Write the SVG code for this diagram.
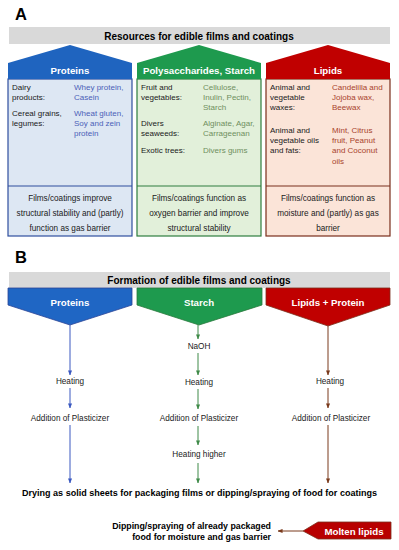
<svg xmlns="http://www.w3.org/2000/svg" width="399" height="550" viewBox="0 0 399 550">
<defs>
<style>
text{font-family:"Liberation Sans",Arial,sans-serif;}
.letter{font-size:16.5px;font-weight:bold;fill:#000;}
.bar{fill:#d9d9d9;}
.title{font-size:10px;font-weight:bold;fill:#000;text-anchor:middle;}
.head{font-size:9.7px;font-weight:bold;fill:#fff;text-anchor:middle;}
.lab{font-size:8px;fill:#1a1a1a;}
.bt{font-size:8.2px;fill:#1a1a1a;text-anchor:middle;}
.step{font-size:8.2px;fill:#1a1a1a;text-anchor:middle;}
.bold{font-size:8.3px;font-weight:bold;fill:#000;}
.dip{font-size:8.8px;font-weight:bold;fill:#000;text-anchor:end;}
.cb{fill:#4b5fb8;}
.cg{fill:#6f8f5e;}
.cr{fill:#a8432c;}
.ln{fill:none;stroke-width:1;}
</style>
<marker id="ab" viewBox="0 0 6 6" refX="5.5" refY="3" markerWidth="5" markerHeight="5" orient="auto"><path d="M0,0.5 L6,3 L0,5.5 Z" fill="#3a58c0"/></marker>
<marker id="ag" viewBox="0 0 6 6" refX="5.5" refY="3" markerWidth="5" markerHeight="5" orient="auto"><path d="M0,0.5 L6,3 L0,5.5 Z" fill="#3f8a48"/></marker>
<marker id="ar" viewBox="0 0 6 6" refX="5.5" refY="3" markerWidth="5" markerHeight="5" orient="auto"><path d="M0,0.5 L6,3 L0,5.5 Z" fill="#7a3a1c"/></marker>
</defs>

<text class="letter" x="15" y="20">A</text>
<rect class="bar" x="9" y="27" width="381" height="17"/>
<text class="title" x="199" y="39.5">Resources for edible films and coatings</text>

<g id="house-proteins">
<rect x="8" y="79" width="124" height="157" fill="#dde7f3" stroke="#2f4f9e" stroke-width="1.2"/>
<line x1="8" y1="186" x2="132" y2="186" stroke="#2f4f9e" stroke-width="1.2"/>
<polygon points="8,79 8,63 70,45 132,63 132,79" fill="#1f64bf"/>
<text class="head" x="70" y="73.5">Proteins</text>
<text class="lab" x="12" y="90">Dairy</text>
<text class="lab" x="12" y="100">products:</text>
<text class="lab" x="12" y="116">Cereal grains,</text>
<text class="lab" x="12" y="126">legumes:</text>
<text class="lab cb" x="74" y="90">Whey protein,</text>
<text class="lab cb" x="74" y="100">Casein</text>
<text class="lab cb" x="74" y="116">Wheat gluten,</text>
<text class="lab cb" x="74" y="126">Soy and zein</text>
<text class="lab cb" x="74" y="136">protein</text>
<text class="bt" x="70" y="201">Films/coatings improve</text>
<text class="bt" x="70" y="216">structural stability and (partly)</text>
<text class="bt" x="70" y="231">function as gas barrier</text>
</g>

<g id="house-polysaccharides">
<rect x="137" y="79" width="124" height="157" fill="#e2f0da" stroke="#2e7d3e" stroke-width="1.2"/>
<line x1="137" y1="186" x2="261" y2="186" stroke="#2e7d3e" stroke-width="1.2"/>
<polygon points="137,79 137,63 199,45 261,63 261,79" fill="#1e9a4e"/>
<text class="head" x="199" y="73.5">Polysaccharides, Starch</text>
<text class="lab" x="141" y="90">Fruit and</text>
<text class="lab" x="141" y="100">vegetables:</text>
<text class="lab" x="141" y="126">Divers</text>
<text class="lab" x="141" y="136">seaweeds:</text>
<text class="lab" x="141" y="153">Exotic trees:</text>
<text class="lab cg" x="203" y="90">Cellulose,</text>
<text class="lab cg" x="203" y="100">Inulin, Pectin,</text>
<text class="lab cg" x="203" y="110">Starch</text>
<text class="lab cg" x="203" y="126">Alginate, Agar,</text>
<text class="lab cg" x="203" y="136">Carrageenan</text>
<text class="lab cg" x="203" y="153">Divers gums</text>
<text class="bt" x="199" y="201">Films/coatings function as</text>
<text class="bt" x="199" y="216">oxygen barrier and improve</text>
<text class="bt" x="199" y="231">structural stability</text>
</g>

<g id="house-lipids">
<rect x="266" y="79" width="124" height="157" fill="#fbe4d8" stroke="#7b2e1c" stroke-width="1.2"/>
<line x1="266" y1="186" x2="390" y2="186" stroke="#7b2e1c" stroke-width="1.2"/>
<polygon points="266,79 266,63 328,45 390,63 390,79" fill="#c00000"/>
<text class="head" x="328" y="73.5">Lipids</text>
<text class="lab" x="270" y="89.5">Animal and</text>
<text class="lab" x="270" y="100">vegetable</text>
<text class="lab" x="270" y="110">waxes:</text>
<text class="lab" x="270" y="133">Animal and</text>
<text class="lab" x="270" y="143">vegetable oils</text>
<text class="lab" x="270" y="153">and fats:</text>
<text class="lab cr" x="332" y="89.5">Candelilla and</text>
<text class="lab cr" x="332" y="100">Jojoba wax,</text>
<text class="lab cr" x="332" y="110">Beewax</text>
<text class="lab cr" x="332" y="133">Mint, Citrus</text>
<text class="lab cr" x="332" y="143">fruit, Peanut</text>
<text class="lab cr" x="332" y="153">and Coconut</text>
<text class="lab cr" x="332" y="163.5">oils</text>
<text class="bt" x="328" y="201">Films/coatings function as</text>
<text class="bt" x="328" y="216">moisture and (partly) as gas</text>
<text class="bt" x="328" y="231">barrier</text>
</g>

<text class="letter" x="15" y="263">B</text>
<rect class="bar" x="9" y="272" width="381" height="16"/>
<text class="title" x="199" y="283.5">Formation of edible films and coatings</text>

<g id="chev-proteins">
<polygon points="8,288 132,288 132,305 70,325 8,305" fill="#1f66c4" stroke="#2c4597" stroke-width="0.8"/>
<text class="head" x="70" y="305.5">Proteins</text>
</g>
<g id="chev-starch">
<polygon points="137,288 262,288 262,305 199,325 137,305" fill="#1e9a4e" stroke="#2a7a3c" stroke-width="0.8"/>
<text class="head" x="199" y="306">Starch</text>
</g>
<g id="chev-lipids">
<polygon points="266,288 390,288 390,305 328,326 266,305" fill="#c00000" stroke="#7b2e1c" stroke-width="0.8"/>
<text class="head" x="328" y="305.5">Lipids + Protein</text>
</g>

<g id="steps">
<text class="step" x="70" y="384">Heating</text>
<text class="step" x="70" y="420.5">Addition of Plasticizer</text>
<text class="step" x="199" y="349">NaOH</text>
<text class="step" x="199" y="385">Heating</text>
<text class="step" x="199" y="421">Addition of Plasticizer</text>
<text class="step" x="199" y="457">Heating higher</text>
<text class="step" x="330" y="384">Heating</text>
<text class="step" x="331" y="421">Addition of Plasticizer</text>
</g>

<g id="connectors">
<line class="ln" stroke="#3a58c0" x1="70" y1="325" x2="70" y2="375" marker-end="url(#ab)"/>
<line class="ln" stroke="#3a58c0" x1="70" y1="388" x2="70" y2="408" marker-end="url(#ab)"/>
<line class="ln" stroke="#3a58c0" x1="70" y1="425" x2="70" y2="483" marker-end="url(#ab)"/>
<line class="ln" stroke="#3f8a48" x1="198" y1="325" x2="198" y2="339" marker-end="url(#ag)"/>
<line class="ln" stroke="#3f8a48" x1="198" y1="353" x2="198" y2="375" marker-end="url(#ag)"/>
<line class="ln" stroke="#3f8a48" x1="198" y1="389" x2="198" y2="409" marker-end="url(#ag)"/>
<line class="ln" stroke="#3f8a48" x1="198" y1="426" x2="198" y2="445" marker-end="url(#ag)"/>
<line class="ln" stroke="#3f8a48" x1="198" y1="463" x2="198" y2="483" marker-end="url(#ag)"/>
<line class="ln" stroke="#7a3a1c" x1="328" y1="326" x2="328" y2="375" marker-end="url(#ar)"/>
<line class="ln" stroke="#7a3a1c" x1="328" y1="388" x2="328" y2="408" marker-end="url(#ar)"/>
<line class="ln" stroke="#7a3a1c" x1="328" y1="425" x2="328" y2="483" marker-end="url(#ar)"/>
<line class="ln" stroke="#7a3a1c" x1="303" y1="531" x2="278" y2="531" marker-end="url(#ar)"/>
</g>

<g id="drying">
<text class="bold" x="199.5" y="496" text-anchor="middle" textLength="355" lengthAdjust="spacingAndGlyphs">Drying as solid sheets for packaging films or dipping/spraying of food for coatings</text>
</g>

<g id="dipping">
<text class="dip" x="271" y="529">Dipping/spraying of already packaged</text>
<text class="dip" x="271" y="539.5">food for moisture and gas barrier</text>
</g>

<g id="molten-lipids">
<polygon points="303,531 318,522 391,522 391,539 318,539" fill="#b80000" stroke="#7b2e1c" stroke-width="0.8"/>
<text class="head" x="354" y="534.5">Molten lipids</text>
</g>
</svg>
